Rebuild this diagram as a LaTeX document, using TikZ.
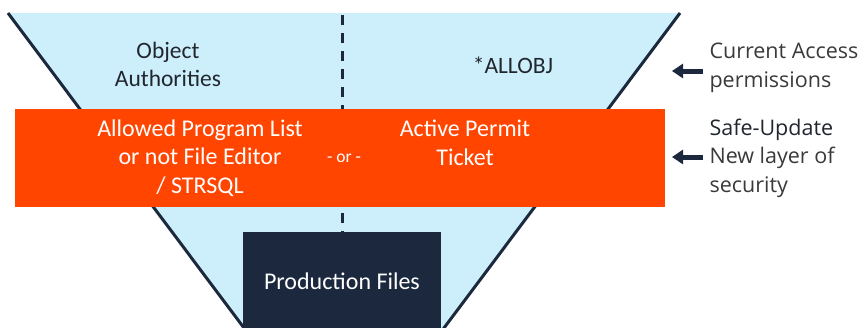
\documentclass[tikz,border=0pt]{standalone}
\usepackage{fontspec}
\setmainfont{Carlito}
\newfontfamily\rfont{Open Sans}
\usetikzlibrary{arrows.meta}
\definecolor{funnelblue}{HTML}{CDEFFC}
\definecolor{bandorange}{HTML}{FF4500}
\definecolor{navy}{HTML}{1B283D}
\definecolor{txtdark}{HTML}{22262E}
\definecolor{txtgray}{HTML}{3A3A3A}
\tikzset{
  toptext/.style={text=txtdark, font=\fontsize{23.5}{28}\selectfont, align=center},
  bandtext/.style={text=white, font=\fontsize{24}{28.5}\selectfont, align=center},
  sidetext/.style={text=txtgray, font=\rfont\fontsize{21.5}{28.5}\selectfont, align=left, anchor=west},
  sidearrow/.style={navy, line width=5pt, -{Triangle[length=11pt,width=14pt]}},
  funnelside/.style={navy, line width=3pt},
}
\begin{document}
\begin{tikzpicture}[x=1pt,y=-1pt]
\useasboundingbox (0,0) rectangle (865,327);
\clip (0,0) rectangle (865,327);
\fill[white] (0,0) rectangle (865,327);
% funnel
\coordinate (tl) at (8,13);
\coordinate (tr) at (680,13);
\coordinate (bl) at (253,340);
\coordinate (br) at (435,340);
\fill[funnelblue] (tl) -- (tr) -- (br) -- (bl) -- cycle;
\draw[funnelside] (tl) -- (bl);
\draw[funnelside] (tr) -- (br);
% production files box
\node[fill=navy, minimum width=198pt, minimum height=110pt, anchor=north, inner sep=0pt] (prod) at (342,232) {};
\node[text=white, font=\fontsize{24}{28}\selectfont] (prodtxt) at (342,281) {Production Files};
% dashed divider
\coordinate (dtop) at (342,15);
\draw[navy, line width=3pt, dash pattern=on 10pt off 8pt] (dtop) -- (prod.north);
% orange band
\node[fill=bandorange, minimum width=650pt, minimum height=98pt, inner sep=0pt] (band) at (340,158) {};
% top texts
\node[toptext] (objauth) at (168,64) {Object\\Authorities};
\node[toptext] (allobj) at (513,65) {*ALLOBJ};
% band texts
\node[bandtext] (allowed) at (200,158) {Allowed Program List\\or not File Editor\\/ STRSQL};
\node[bandtext, font=\fontsize{17.5}{20}\selectfont] (ortxt) at (344,158) {- or -};
\node[bandtext] (permit) at (465,143) {Active Permit\\Ticket};
% side texts
\node[sidetext] (current) at (706,68) {Current Access\\permissions};
\node[sidetext] (safe) at (706,158) {{\color{txtdark}Safe-Update}\\New layer of\\security};
% arrows
\coordinate (a1s) at (703,71);
\coordinate (a1e) at (672,71);
\coordinate (a2s) at (703,157);
\coordinate (a2e) at (672,157);
\draw[sidearrow] (a1s) -- (a1e);
\draw[sidearrow] (a2s) -- (a2e);
\end{tikzpicture}
\end{document}
